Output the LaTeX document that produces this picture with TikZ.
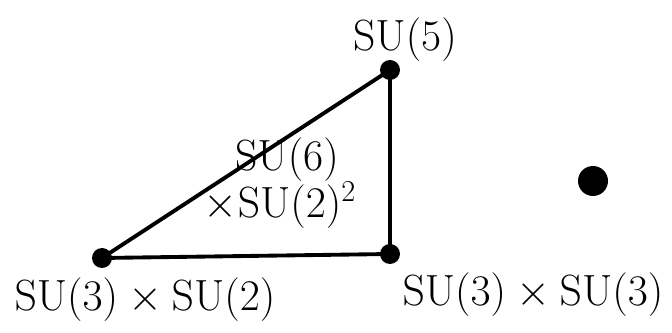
\documentclass[tikz,border=0pt]{standalone}
\usepackage{amsmath,amssymb}
\usepackage{xcolor}
\usepackage{tikz}
\usetikzlibrary{positioning}
\tikzset{vtx/.style={circle,fill=black,inner sep=0pt,minimum size=0.4cm},
  grp/.style={font=\fontsize{24}{28}\selectfont}}

\begin{document}
\begin{tikzpicture}[x=0.02cm,y=-0.02cm]
\useasboundingbox (0,0) rectangle (672,333);
\node[vtx] (su5) at (390,70) {}; \node[vtx] (su3su2) at (102,258) {}; \node[vtx] (su3su3) at (390,254) {};
\draw[line width=2.2pt,line join=round] (su3su2.center) -- (su5.center) -- (su3su3.center) -- cycle;
\node[vtx,minimum size=0.6cm] (iso) at (593,181) {};
\node[grp] (l5) at (405,40) {$\mathrm{SU}(5)$};
\node[grp] (l32) at (145,300) {$\mathrm{SU}(3)\times\mathrm{SU}(2)$};
\node[grp] (l33) at (533,295) {$\mathrm{SU}(3)\times\mathrm{SU}(3)$};
\node[grp] (l6) at (287,160) {$\mathrm{SU}(6)$};
\node[grp] (l62) at (280,205) {$\times\mathrm{SU}(2)^2$};
\end{tikzpicture}
\end{document}
